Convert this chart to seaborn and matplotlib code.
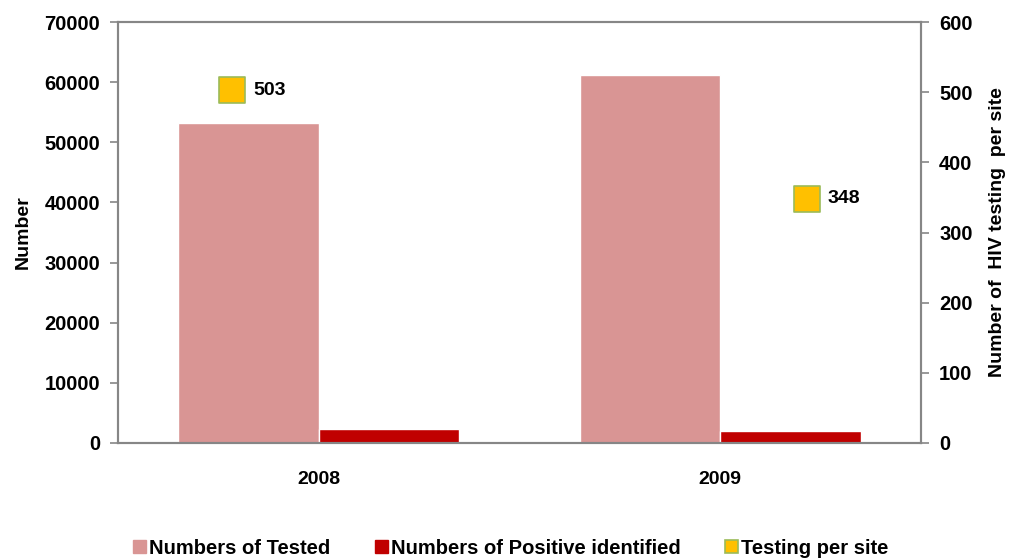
import matplotlib
matplotlib.use("Agg")
import matplotlib.pyplot as plt
from matplotlib.patches import Patch
import seaborn as sns
import pandas as pd
import numpy as np

years = ["2008", "2009"]
tested = [53200, 61200]
positive = [2300, 2000]
per_site = [503, 348]
series_names = ["Numbers of Tested", "Numbers of Positive identified", "Testing per site"]

df = pd.DataFrame({
    "year": years * 2,
    "series": [series_names[0]] * 2 + [series_names[1]] * 2,
    "value": tested + positive,
})

sns.set_theme(style="white")
plt.rcParams["font.family"] = ["Liberation Sans", "DejaVu Sans"]
plt.rcParams["font.weight"] = "bold"
plt.rcParams["text.color"] = "black"
plt.rcParams["axes.labelcolor"] = "black"
plt.rcParams["xtick.color"] = "black"
plt.rcParams["ytick.color"] = "black"

c_tested = "#D99594"
c_pos = "#C00000"
c_site = "#FFC000"
c_edge = "#9BBB59"
grey = "#868686"

fig = plt.figure(figsize=(10.10, 5.59), dpi=100)
ax = fig.add_axes([118/1010, 1-443/559, (921-118)/1010, (443-22)/559])

sns.barplot(data=df, x="year", y="value", hue="series", order=years,
            hue_order=series_names[:2], palette=[c_tested, c_pos],
            width=0.7, saturation=1, ax=ax, legend=False)
ax.set_ylim(0, 70000)
ax.set_yticks(np.arange(0, 70001, 10000))
ax.set_xlim(-0.5, 1.5)
ax.set_xlabel("")
ax.set_ylabel("Number", fontsize=14, fontweight="bold", labelpad=9)
ax.tick_params(axis="y", labelsize=14.5, length=6, width=1.2, color=grey,
               labelcolor="black", direction="out", pad=7)
ax.set_xticks([0, 1])
ax.set_xticklabels(years)
ax.tick_params(axis="x", labelsize=14, length=0, pad=20, labelcolor="black")
ax.set_xticks([-0.5, 0.5, 1.5], minor=True)
ax.tick_params(axis="x", which="minor", length=6, width=1.2, color=grey, direction="out")
for lab in ax.get_xticklabels() + ax.get_yticklabels():
    lab.set_fontweight("bold")
for s in ax.spines.values():
    s.set_color(grey)
    s.set_linewidth(1.5)

ax2 = ax.twinx()
offsets = np.array([-0.215, 0.215])
xs = np.arange(len(years)) + offsets
site_df = pd.DataFrame({"x": xs, "v": per_site})
sns.scatterplot(data=site_df, x="x", y="v", marker="s", s=330, color=c_site,
                edgecolor=c_edge, linewidth=1.2, ax=ax2, zorder=5)
ax2.set_ylim(0, 600)
ax2.set_yticks(np.arange(0, 601, 100))
ax2.set_xlim(-0.5, 1.5)
ax2.set_xlabel("")
ax2.set_ylabel("Number of  HIV testing  per site", fontsize=14, fontweight="bold", labelpad=12)
ax2.tick_params(axis="y", labelsize=14.5, length=6, width=1.2, color=grey,
                labelcolor="black", direction="out", pad=7)
for lab in ax2.get_yticklabels():
    lab.set_fontweight("bold")
for s in ax2.spines.values():
    s.set_color(grey)
    s.set_linewidth(1.5)
for xv, v in zip(xs, per_site):
    ax2.annotate(str(v), (xv, v), xytext=(15, 0), textcoords="offset points",
                 ha="left", va="center", fontsize=14, fontweight="bold", color="black")

handles = [Patch(facecolor=c_tested, edgecolor=c_tested),
           Patch(facecolor=c_pos, edgecolor=c_pos),
           Patch(facecolor=c_site, edgecolor=c_edge, linewidth=1.2)]
fig.legend(handles, series_names, loc="center", bbox_to_anchor=(511/1010, 1-548/559),
           ncol=3, frameon=False, prop={"size": 14.5, "weight": "bold"},
           handlelength=0.65, handleheight=0.65, handletextpad=0.15, columnspacing=2.2)

fig.savefig("out.png", dpi=100)
